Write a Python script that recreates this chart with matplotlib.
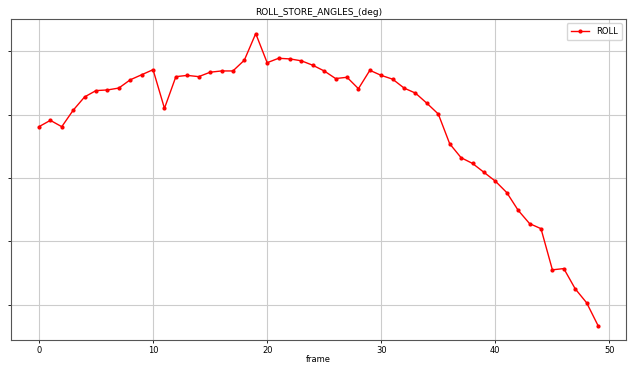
import numpy as np
import matplotlib
matplotlib.use("Agg")
import matplotlib.pyplot as plt

# roll angle per frame (y tick labels are hidden in the original, units arbitrary)
frames = np.arange(50)
roll = [
    3.81, 3.91, 3.81, 4.07, 4.28, 4.38, 4.39, 4.42, 4.55, 4.63,
    4.71, 4.10, 4.60, 4.62, 4.60, 4.67, 4.69, 4.69, 4.86, 5.28,
    4.82, 4.89, 4.88, 4.85, 4.78, 4.69, 4.57, 4.59, 4.41, 4.70,
    4.62, 4.56, 4.42, 4.34, 4.18, 4.01, 3.54, 3.32, 3.23, 3.09,
    2.95, 2.77, 2.49, 2.28, 2.20, 1.55, 1.57, 1.25, 1.03, 0.67,
]
y_grid = [1, 2, 3, 4, 5]

fig = plt.figure(figsize=(6.32, 3.65), dpi=100)
ax = fig.add_axes([0.0174, 0.068, 0.9731, 0.88])

ax.plot(frames, roll, color="red", marker="o", markersize=2, linewidth=1.0, label="ROLL")
ax.set_title("ROLL_STORE_ANGLES_(deg)", fontsize=6.5, pad=3)
ax.set_xlabel("frame", fontsize=6, labelpad=0)
ax.set_yticks(y_grid)
ax.set_yticklabels([])
ax.tick_params(labelsize=6, length=2.5, width=0.6, pad=1.5)
ax.grid(True, color="#cccccc", linewidth=0.8)
for s in ax.spines.values():
    s.set_linewidth(0.8)
    s.set_color("#555555")
ax.legend(loc="upper right", fontsize=6, handlelength=2.2, borderpad=0.5)

plt.savefig("out.png", dpi=100)
